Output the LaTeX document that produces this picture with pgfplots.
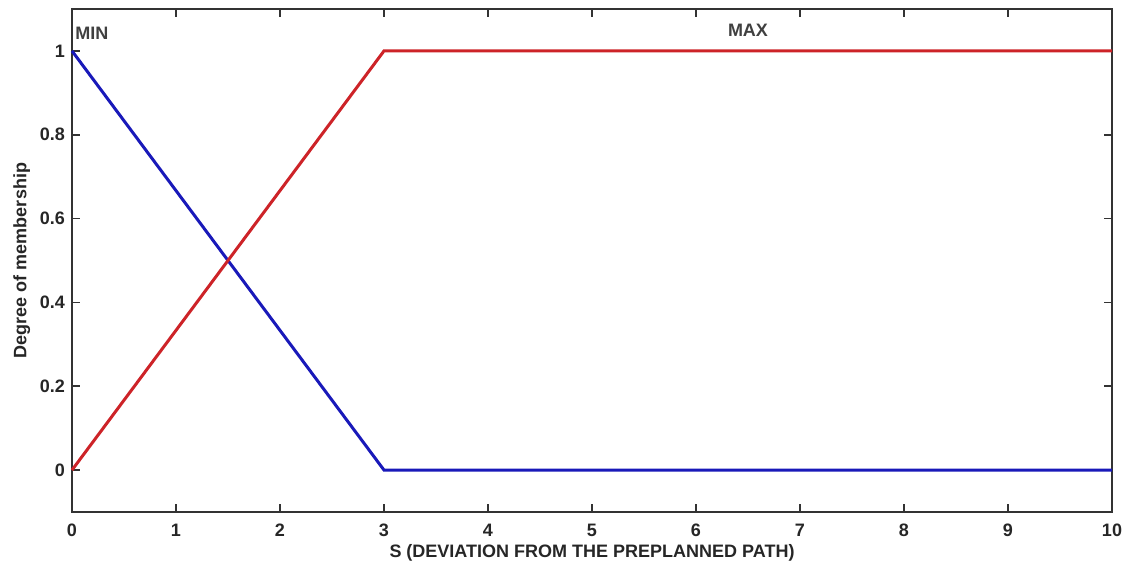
\documentclass[border=0pt]{standalone}
\usepackage{fontspec}
\setmainfont{Liberation Sans}
\usepackage{pgfplots}
\pgfplotsset{compat=1.18}
\definecolor{mblue}{RGB}{25,25,185}
\definecolor{mred}{RGB}{205,35,40}
\begin{document}
\begin{tikzpicture}
\begin{axis}[
  name=ax,
  scale only axis,
  width=520pt, height=251.5pt,
  xmin=0, xmax=10, ymin=-0.1, ymax=1.1,
  xtick={0,1,...,10},
  ytick={0,0.2,0.4,0.6,0.8,1},
  yticklabels={0,0.2,0.4,0.6,0.8,1},
  tick align=inside,
  major tick length=4pt,
  axis line style={line width=1pt, black!80},
  tick style={line width=0.8pt, black!80},
  every tick label/.append style={font=\fontsize{9}{10}\selectfont\bfseries, text=black!85},
  xticklabel style={yshift=-2.5pt},
  /pgf/number format/assume math mode=true,
  xlabel={S (DEVIATION FROM THE PREPLANNED PATH)},
  ylabel={Degree of membership},
  label style={font=\fontsize{9}{10}\selectfont\bfseries, text=black!85},
  xlabel style={yshift=3pt},
  ylabel style={yshift=-2pt},
  clip=false,
]
\addplot[mblue, line width=1.5pt] coordinates {(0,1) (3,0) (10,0)};
\addplot[mred, line width=1.5pt] coordinates {(0,0) (3,1) (10,1)};
\node[anchor=west, font=\fontsize{9}{10}\selectfont\bfseries, text=black!75, inner sep=1pt] at (axis cs:0.01,1.043) {MIN};
\node[font=\fontsize{9}{10}\selectfont\bfseries, text=black!75, inner sep=1pt] at (axis cs:6.5,1.048) {MAX};
\end{axis}
\pgfresetboundingbox
\path ([shift={(-36pt,-30pt)}]ax.south west) rectangle ([shift={(10pt,4.5pt)}]ax.north east);
\end{tikzpicture}
\end{document}
